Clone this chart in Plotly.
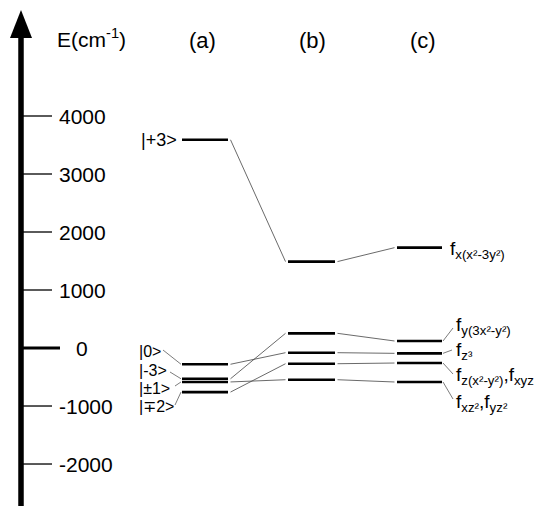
import plotly.graph_objects as go

# ---------------- data ----------------
tick_values = [4000, 3000, 2000, 1000, 0, -1000, -2000]
tick_labels = ["4000", "3000", "2000", "1000", "0", "-1000", "-2000"]

column_titles = ["(a)", "(b)", "(c)"]

energies_a = [3590, -280, -530, -585, -760]
labels_a = ["|+3>", "|0>", "|-3>", "|±1>", "|∓2>"]

energies_b = [1490, 253, -81, -271, -547]

energies_c = [1730, 121, -92, -259, -586]
labels_c = ["f<sub>x(x²-3y²)</sub>", "f<sub>y(3x²-y²)</sub>", "f<sub>z³</sub>",
            "f<sub>z(x²-y²)</sub>,f<sub>xyz</sub>", "f<sub>xz²</sub>,f<sub>yz²</sub>"]

# which (b) level each (a) level correlates with
a_to_b = [0, 2, 1, 4, 3]
# (b) -> (c) correlate index by index
b_to_c = [0, 1, 2, 3, 4]

# ---------------- layout constants ----------------
WIN_W, WIN_H = 543, 506
OFF = 8  # default page body margin
E_TOP, E_BOT = 6000, -2724
FONT = "Arial, Liberation Sans, sans-serif"

def px_to_E(py):
    # window pixel row -> energy
    return E_TOP - py / WIN_H * (E_TOP - E_BOT)

cols = {"a": (182, 228), "b": (288, 335), "c": (397, 442)}
title_x = [202, 312, 423]
GAP = 2.5

fig = go.Figure()

def seg(x0, y0, x1, y1, width, color="black"):
    fig.add_trace(go.Scatter(x=[x0, x1], y=[y0, y1], mode="lines",
                             line=dict(color=color, width=width),
                             hoverinfo="skip", showlegend=False))

# axis shaft + arrow head
AX = 21
seg(AX, px_to_E(WIN_H + 2), AX, px_to_E(36), 5.5)
fig.add_shape(type="path", xref="x", yref="y",
              path=f"M 10 {px_to_E(38)} L 32 {px_to_E(38)} L 21 {px_to_E(10)} Z",
              fillcolor="black", line=dict(width=0))

# ticks and tick labels
for v, lab in zip(tick_values, tick_labels):
    if v == 0:
        seg(AX, v, 60, v, 3)
        fig.add_annotation(x=74, y=v, text=lab, showarrow=False, xanchor="left",
                           yanchor="middle", font=dict(family=FONT, size=21, color="black"))
    else:
        seg(AX, v, 52, v, 1.3)
        fig.add_annotation(x=57, y=v, text=lab, showarrow=False, xanchor="left",
                           yanchor="middle", font=dict(family=FONT, size=21, color="black"))

# axis title
fig.add_annotation(x=55, y=px_to_E(38), text="E(cm<sup>-1</sup>)", showarrow=False,
                   xanchor="left", yanchor="middle", font=dict(family=FONT, size=21, color="black"))

# column titles
for tx, t in zip(title_x, column_titles):
    fig.add_annotation(x=tx, y=px_to_E(40), text=t, showarrow=False, xanchor="center",
                       yanchor="middle", font=dict(family=FONT, size=22, color="black"))

# energy levels
for key, en in (("a", energies_a), ("b", energies_b), ("c", energies_c)):
    x0, x1 = cols[key]
    for e in en:
        seg(x0, e, x1, e, 2.6)

# correlation lines
CONN = "#444444"
for i, j in enumerate(a_to_b):
    seg(cols["a"][1] + GAP, energies_a[i], cols["b"][0] - GAP, energies_b[j], 0.8, CONN)
for i, j in enumerate(b_to_c):
    seg(cols["b"][1] + GAP, energies_b[i], cols["c"][0] - GAP, energies_c[j], 0.8, CONN)

# (a) labels
fig.add_annotation(x=179, y=energies_a[0], text=labels_a[0], showarrow=False, xanchor="right",
                   yanchor="middle", font=dict(family=FONT, size=18, color="black"))
a_lab_py = [351, 370, 388, 406]
a_lab_end = [163, 170, 175, 175]
a_lab_lead_py = [350, 372, 386, 405]
for k in range(1, 5):
    fig.add_annotation(x=138, y=px_to_E(a_lab_py[k - 1]), text=labels_a[k], showarrow=False,
                       xanchor="left", yanchor="middle", borderpad=0,
                       font=dict(family=FONT, size=16, color="black"))
    seg(a_lab_end[k - 1], px_to_E(a_lab_lead_py[k - 1]), cols["a"][0] - 1, energies_a[k], 0.7, CONN)

# (c) labels
c_lab_x = [448, 454, 454, 454, 454]
c_lab_py = [250, 326, 351, 376, 403]
c_lead_end = [None, (453, 328), (452, 350), (453, 374), (453, 399)]
for k in range(5):
    fig.add_annotation(x=c_lab_x[k], y=px_to_E(c_lab_py[k]), text=labels_c[k], showarrow=False,
                       xanchor="left", yanchor="middle",
                       font=dict(family=FONT, size=19, color="black"))
    if c_lead_end[k] is not None:
        ex, ey = c_lead_end[k]
        seg(cols["c"][1] + 1, energies_c[k], ex, px_to_E(ey), 0.7, CONN)

fig.update_layout(
    width=WIN_W - OFF, height=WIN_H - OFF, margin=dict(l=0, r=0, t=0, b=0),
    paper_bgcolor="white", plot_bgcolor="white", showlegend=False,
    xaxis=dict(range=[OFF, WIN_W], visible=False, fixedrange=True),
    yaxis=dict(range=[px_to_E(WIN_H), px_to_E(OFF)], visible=False, fixedrange=True),
)

fig.write_html("out.html")
